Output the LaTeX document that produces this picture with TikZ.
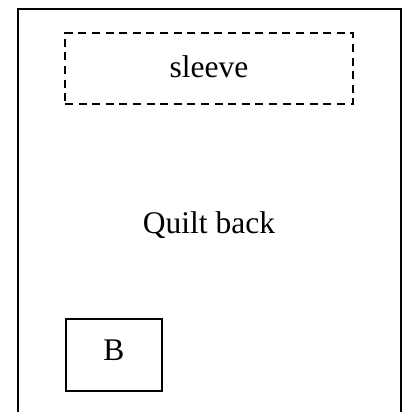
\documentclass[tikz,border=0pt]{standalone}
\usepackage{fontspec}
\setmainfont{Liberation Serif}
\begin{document}
\begin{tikzpicture}[x=0.5pt,y=-0.5pt,
  lbl/.style={font=\fontsize{15.75}{18}\selectfont, inner sep=0pt},
  sleevebox/.style={draw, dashed, dash pattern=on 4pt off 2.8pt, line width=0.85pt, minimum width=144pt, minimum height=35.5pt, inner sep=0pt},
  bbox/.style={draw, line width=1pt, minimum width=48pt, minimum height=36pt, inner sep=0pt}]
\useasboundingbox (0,0) rectangle (406,412);
\coordinate (bl) at (18,420);
\coordinate (tl) at (18,9);
\coordinate (tr) at (401,9);
\coordinate (br) at (401,420);
\draw[line width=1pt] (bl) -- (tl) -- (tr) -- (br);
\node[sleevebox] (sleeve) at (209,68.5) {};
\node[lbl, anchor=base] (sleevetxt) at (209,77) {sleeve};
\node[lbl, anchor=base] (quilt) at (209,233) {Quilt back};
\node[bbox] (b) at (114,355) {};
\node[lbl, anchor=base] (btxt) at (114,360) {B};
\end{tikzpicture}
\end{document}
